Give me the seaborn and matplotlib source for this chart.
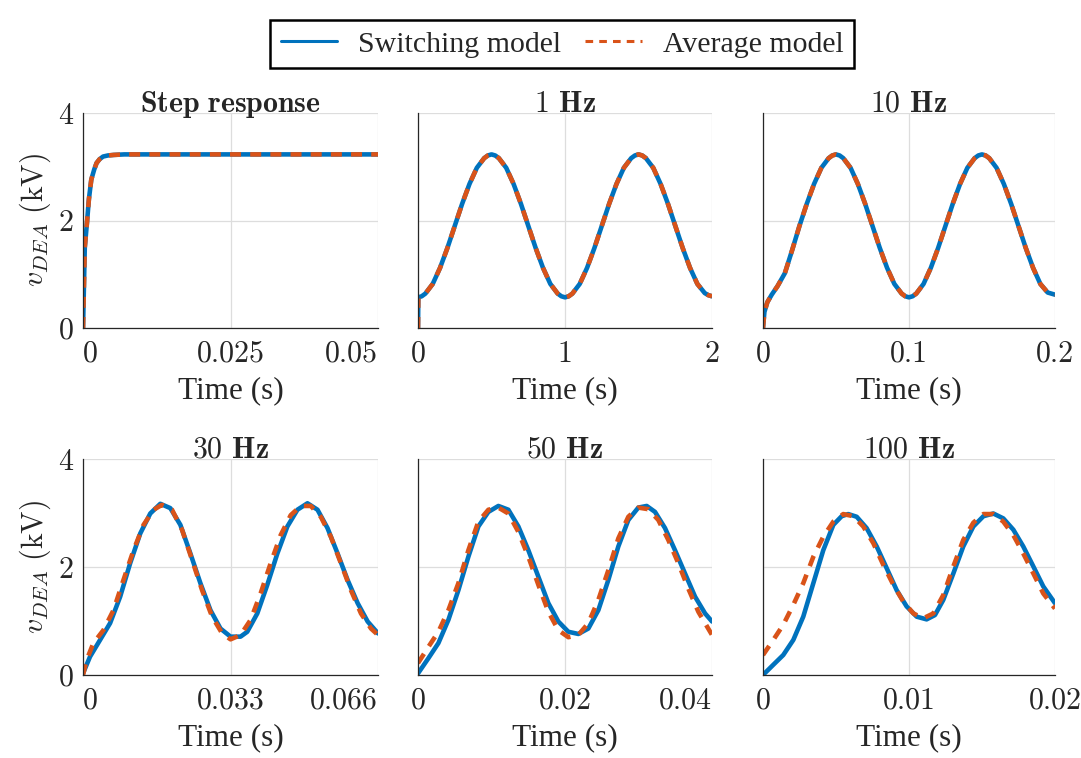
import matplotlib
matplotlib.use('Agg')
import matplotlib.pyplot as plt
import seaborn as sns
from matplotlib.lines import Line2D

sns.set_style('white')
plt.rcParams['mathtext.fontset'] = 'cm'
plt.rcParams['axes.unicode_minus'] = False

BLUE = '#0072BD'
ORANGE = '#D95319'

# ---- data (time in s, voltage in kV) ----
step_t = [0, 0.0003, 0.0007, 0.001, 0.0014, 0.0019, 0.0023, 0.0028, 0.0034, 0.0042,
          0.0052, 0.007, 0.01, 0.02, 0.03, 0.04, 0.05]
step_v = [0, 1.5, 2.0, 2.4, 2.76, 2.95, 3.07, 3.14, 3.19, 3.21,
          3.22, 3.23, 3.23, 3.23, 3.23, 3.23, 3.23]

hz1_t = [0, 0.002, 0.025, 0.05, 0.1, 0.15, 0.2, 0.25, 0.3, 0.35, 0.4, 0.45, 0.475, 0.5,
         0.525, 0.55, 0.6, 0.65, 0.7, 0.75, 0.8, 0.85, 0.9, 0.95, 0.975, 1.0,
         1.025, 1.05, 1.1, 1.15, 1.2, 1.25, 1.3, 1.35, 1.4, 1.45, 1.475, 1.5,
         1.525, 1.55, 1.6, 1.65, 1.7, 1.75, 1.8, 1.85, 1.9, 1.95, 1.975, 2.0]
hz1_v = [0, 0.57, 0.59, 0.64, 0.82, 1.12, 1.49, 1.90, 2.31, 2.68, 2.98, 3.16, 3.21, 3.23,
         3.21, 3.16, 2.98, 2.68, 2.31, 1.90, 1.49, 1.12, 0.82, 0.64, 0.59, 0.57,
         0.59, 0.64, 0.82, 1.12, 1.49, 1.90, 2.31, 2.68, 2.98, 3.16, 3.21, 3.23,
         3.21, 3.16, 2.98, 2.68, 2.31, 1.90, 1.49, 1.12, 0.82, 0.65, 0.61, 0.59]

hz10_t = [0, 0.001, 0.003, 0.006, 0.01, 0.015, 0.02, 0.025, 0.03, 0.035, 0.04, 0.045,
          0.0475, 0.05, 0.0525, 0.055, 0.06, 0.065, 0.07, 0.075, 0.08, 0.085, 0.09, 0.095,
          0.0975, 0.1, 0.1025, 0.105, 0.11, 0.115, 0.12, 0.125, 0.13, 0.135, 0.14, 0.145,
          0.1475, 0.15, 0.1525, 0.155, 0.16, 0.165, 0.17, 0.175, 0.18, 0.185, 0.19, 0.195, 0.2]
hz10_v = [0, 0.3, 0.48, 0.62, 0.78, 1.02, 1.45, 1.90, 2.31, 2.68, 2.98, 3.16,
          3.21, 3.23, 3.21, 3.16, 2.98, 2.68, 2.31, 1.90, 1.49, 1.12, 0.82, 0.64,
          0.59, 0.57, 0.59, 0.64, 0.82, 1.12, 1.49, 1.90, 2.31, 2.68, 2.98, 3.16,
          3.21, 3.23, 3.21, 3.16, 2.98, 2.68, 2.31, 1.90, 1.49, 1.12, 0.82, 0.66, 0.62]

hz30_sw_t = [0, 0.00157, 0.00382, 0.00606, 0.00831, 0.01055, 0.0128, 0.01504, 0.01729,
             0.01953, 0.02178, 0.02402, 0.02626, 0.02851, 0.03075, 0.033, 0.03524, 0.03674,
             0.03899, 0.04123, 0.04348, 0.04572, 0.04797, 0.05021, 0.05246, 0.0547, 0.05695,
             0.05919, 0.06144, 0.06368, 0.066]
hz30_sw_v = [0.03, 0.34, 0.65, 0.96, 1.45, 2.07, 2.62, 2.99, 3.17,
             3.09, 2.78, 2.25, 1.70, 1.20, 0.86, 0.71, 0.71, 0.80,
             1.14, 1.67, 2.25, 2.75, 3.06, 3.18, 3.06, 2.72, 2.25,
             1.76, 1.33, 0.99, 0.77]
hz30_avg_t = [0, 0.00082, 0.00232, 0.00456, 0.00681, 0.00905, 0.0113, 0.01354, 0.01579,
              0.01766, 0.01991, 0.02215, 0.0244, 0.02664, 0.02888, 0.03113, 0.033, 0.03524,
              0.03749, 0.03973, 0.04198, 0.04422, 0.04647, 0.04871, 0.05096, 0.0532, 0.05545,
              0.05769, 0.05994, 0.06218, 0.06443, 0.066]
hz30_avg_v = [0, 0.28, 0.59, 0.83, 1.20, 1.76, 2.31, 2.78, 3.06,
              3.15, 3.06, 2.69, 2.13, 1.57, 1.08, 0.77, 0.66, 0.74,
              1.02, 1.51, 2.07, 2.59, 2.96, 3.13, 3.13, 2.93, 2.56,
              2.07, 1.57, 1.14, 0.86, 0.74]

hz50_sw_t = [0, 0.00141, 0.00277, 0.00413, 0.00549, 0.00685, 0.00821, 0.00957, 0.01093,
             0.01229, 0.01365, 0.01501, 0.01637, 0.01773, 0.01909, 0.02045, 0.02181, 0.02317,
             0.02453, 0.02589, 0.02725, 0.02861, 0.02997, 0.03111, 0.03224, 0.0336, 0.03496,
             0.03632, 0.03769, 0.03905, 0.04]
hz50_sw_v = [0.03, 0.31, 0.59, 1.02, 1.57, 2.19, 2.75, 3.02, 3.13,
             3.06, 2.75, 2.31, 1.82, 1.33, 0.99, 0.80, 0.76, 0.86,
             1.20, 1.76, 2.38, 2.87, 3.10, 3.13, 3.02, 2.72, 2.31,
             1.88, 1.45, 1.14, 0.99]
hz50_avg_t = [0, 0.00141, 0.00277, 0.00413, 0.00549, 0.00685, 0.00821, 0.00957, 0.01093,
              0.01229, 0.01365, 0.01501, 0.01637, 0.01773, 0.01909, 0.02045, 0.02181, 0.02317,
              0.02453, 0.02589, 0.02725, 0.02861, 0.02997, 0.03133, 0.03269, 0.03405, 0.03541,
              0.03677, 0.03814, 0.04]
hz50_avg_v = [0.22, 0.52, 0.80, 1.20, 1.70, 2.31, 2.84, 3.06, 3.10,
              2.99, 2.65, 2.19, 1.67, 1.17, 0.83, 0.70, 0.74, 0.96,
              1.39, 1.94, 2.53, 2.93, 3.10, 3.07, 2.87, 2.50, 2.07,
              1.60, 1.17, 0.74]

hz100_sw_t = [0, 0.00071, 0.00139, 0.00208, 0.00276, 0.00345, 0.00413, 0.00482, 0.00539,
              0.00584, 0.00642, 0.0071, 0.00779, 0.00847, 0.00916, 0.00984, 0.01053, 0.01121,
              0.01178, 0.01235, 0.01304, 0.01372, 0.01441, 0.0151, 0.01578, 0.01646, 0.01715,
              0.01783, 0.01852, 0.0192, 0.02]
hz100_sw_v = [0.0, 0.19, 0.37, 0.65, 1.08, 1.70, 2.31, 2.78, 2.94,
              2.98, 2.93, 2.72, 2.38, 1.98, 1.57, 1.27, 1.08, 1.03,
              1.11, 1.39, 1.88, 2.38, 2.75, 2.94, 2.99, 2.90, 2.69,
              2.38, 2.01, 1.64, 1.33]
hz100_avg_t = [0, 0.00071, 0.00139, 0.00208, 0.00276, 0.00345, 0.00413, 0.00482, 0.0055,
               0.00619, 0.00687, 0.00756, 0.00824, 0.00893, 0.00961, 0.0103, 0.01098, 0.01167,
               0.01235, 0.01304, 0.01372, 0.01441, 0.0151, 0.01578, 0.01646, 0.01715, 0.01783,
               0.01852, 0.0192, 0.02]
hz100_avg_v = [0.37, 0.65, 0.93, 1.30, 1.70, 2.19, 2.56, 2.84, 2.98,
               2.94, 2.75, 2.44, 2.04, 1.67, 1.36, 1.14, 1.05, 1.14,
               1.48, 2.01, 2.50, 2.82, 2.98, 2.98, 2.84, 2.59, 2.25,
               1.88, 1.51, 1.23]

titles = [r'$\mathbf{Step\ response}$', r'1 $\mathbf{Hz}$', r'10 $\mathbf{Hz}$',
          r'30 $\mathbf{Hz}$', r'50 $\mathbf{Hz}$', r'100 $\mathbf{Hz}$']
xticks = [[0, 0.025, 0.05], [0, 1, 2], [0, 0.1, 0.2],
          [0, 0.033, 0.066], [0, 0.02, 0.04], [0, 0.01, 0.02]]
xticklabels = [['0', '0.025', '0.05'], ['0', '1', '2'], ['0', '0.1', '0.2'],
               ['0', '0.033', '0.066'], ['0', '0.02', '0.04'], ['0', '0.01', '0.02']]
series = [(step_t, step_v, step_t, step_v),
          (hz1_t, hz1_v, hz1_t, hz1_v),
          (hz10_t, hz10_v, hz10_t, hz10_v),
          (hz30_sw_t, hz30_sw_v, hz30_avg_t, hz30_avg_v),
          (hz50_sw_t, hz50_sw_v, hz50_avg_t, hz50_avg_v),
          (hz100_sw_t, hz100_sw_v, hz100_avg_t, hz100_avg_v)]

fig = plt.figure(figsize=(10.81, 7.58), dpi=100)
lefts = [0.0768, 0.3867, 0.7058]
widths = [0.2729, 0.2720, 0.2701]
bottoms = [0.5673, 0.1095]
heights = [0.2836, 0.2850]

tick_font = 'cmr10'
for i in range(6):
    r, c = divmod(i, 3)
    ax = fig.add_axes([lefts[c], bottoms[r], widths[c], heights[r]])
    ts, vs, ta, va = series[i]
    sns.lineplot(x=ts, y=vs, ax=ax, color=BLUE, linewidth=3.3, estimator=None, sort=False)
    sns.lineplot(x=ta, y=va, ax=ax, color=ORANGE, linewidth=3.3, estimator=None, sort=False,
                 linestyle=(0, (2.4, 2.0)))
    ax.set_xlim(xticks[i][0], xticks[i][-1])
    ax.set_ylim(0, 4)
    ax.set_xticks(xticks[i])
    ax.set_yticks([0, 2, 4])
    labs = ax.set_xticklabels(xticklabels[i], fontfamily=tick_font, fontsize=21.5)
    if c == 0:
        labs[0].set_horizontalalignment('left')
        labs[-1].set_horizontalalignment('right')
        ax.set_yticklabels(['0', '2', '4'], fontfamily=tick_font, fontsize=21.5)
        ax.set_ylabel(r'$v_{DEA}\ (\mathrm{kV})$', fontsize=21.5, labelpad=4)
    else:
        ax.set_yticklabels([])
    if i == 4:
        labs[-1].set_horizontalalignment('right')
    ax.grid(True, color='#dddddd', linewidth=0.9)
    ax.tick_params(direction='in', length=4, width=0.8, colors='#262626', pad=7)
    ax.tick_params(axis='x', pad=9)
    for s in ['top', 'right']:
        ax.spines[s].set_visible(False)
    for s in ['left', 'bottom']:
        ax.spines[s].set_color('#262626')
        ax.spines[s].set_linewidth(0.9)
    ax.set_xlabel('Time (s)', fontfamily='Liberation Serif', fontsize=22.5, labelpad=6)
    ax.set_title(titles[i], fontfamily=tick_font, fontsize=21.5, pad=1)

handles = [Line2D([], [], color=BLUE, linewidth=2.2),
           Line2D([], [], color=ORANGE, linewidth=2.2, linestyle=(0, (2.5, 2.0)))]
leg = fig.legend(handles, ['Switching model', 'Average model'], loc='upper center',
                 bbox_to_anchor=(0.52, 0.993), ncol=2, frameon=True, fancybox=False,
                 prop={'family': 'Liberation Serif', 'size': 21.5}, handlelength=1.9,
                 columnspacing=0.8, handletextpad=0.7, borderpad=0.35, framealpha=1)
leg.get_frame().set_edgecolor('black')
leg.get_frame().set_linewidth(1.8)

fig.savefig('out.png', dpi=100)
